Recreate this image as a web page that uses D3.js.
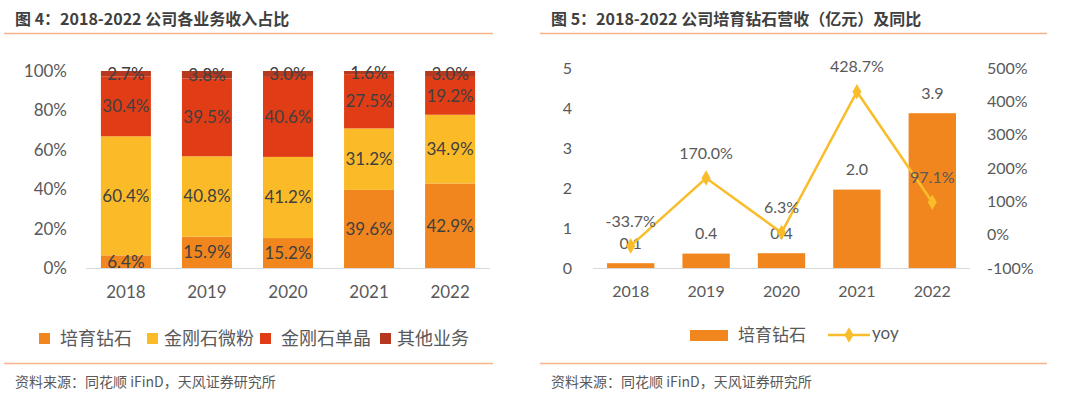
<!DOCTYPE html>
<html>
<head>
<meta charset="utf-8">
<script src="https://cdn.jsdelivr.net/npm/d3@7"></script>
<style>
  body { margin: 0; background: #fff; }
  svg { display: block; }
  text { font-family: Lato, "Noto Sans CJK SC", sans-serif; }
  .cjk { font-family: "Noto Sans CJK SC", sans-serif; }
</style>
</head>
<body>
<script>
// ----- DATA -----
const years = ["2018", "2019", "2020", "2021", "2022"];
const segNames = ["培育钻石", "金刚石微粉", "金刚石单晶", "其他业务"];
const cultivated = [6.4, 15.9, 15.2, 39.6, 42.9];
const micropowder = [60.4, 40.8, 41.2, 31.2, 34.9];
const singleCrystal = [30.4, 39.5, 40.6, 27.5, 19.2];
const others = [2.7, 3.8, 3.0, 1.6, 3.0];
const pctTicks = [0, 0.2, 0.4, 0.6, 0.8, 1];

const revenue = [0.12, 0.36, 0.37, 1.96, 3.87]; // 亿元
const yoy = [-33.7, 170.0, 6.3, 428.7, 97.1];
const revTicks = [0, 1, 2, 3, 4, 5];
const yoyTicks = [-100, 0, 100, 200, 300, 400, 500];

const segColors = ["#F0861D", "#FBBB28", "#E03C15", "#B5381F"];
const barColor = "#F0861D";
const lineColor = "#F9BD2B";
const rule = "#F5B48C";
const tickGray = "#595959";
const labelGray = "#404040";

const svg = d3.select("body").append("svg")
  .attr("width", 1080)
  .attr("height", 398);

// ----- HEADERS / FOOTERS -----
function frame(x0, x1, title) {
  svg.append("text").attr("class", "cjk")
    .attr("x", x0 + 11).attr("y", 25)
    .attr("font-size", 16).attr("font-weight", "bold")
    .attr("fill", labelGray).text(title);
  svg.append("line").attr("x1", x0).attr("x2", x1)
    .attr("y1", 33.5).attr("y2", 33.5)
    .attr("stroke", rule).attr("stroke-width", 1.5);
  svg.append("line").attr("x1", x0).attr("x2", x1)
    .attr("y1", 363.5).attr("y2", 363.5)
    .attr("stroke", rule).attr("stroke-width", 1.5);
  svg.append("text").attr("class", "cjk")
    .attr("x", x0 + 11).attr("y", 387)
    .attr("font-size", 14).attr("fill", tickGray)
    .text("资料来源：同花顺 iFinD，天风证券研究所");
}
frame(4, 493, "图 4：2018-2022 公司各业务收入占比");
frame(540, 1047, "图 5：2018-2022 公司培育钻石营收（亿元）及同比");

// ----- LEFT: 100% STACKED -----
const rows = years.map((y, i) => ({
  year: y, a: cultivated[i], b: micropowder[i], c: singleCrystal[i], d: others[i]
}));
const keys = ["a", "b", "c", "d"];
const stacked = d3.stack().keys(keys).offset(d3.stackOffsetExpand)(rows);

const xL = d3.scaleBand().domain(years).range([85.5, 490.5])
  .paddingInner(0.383).paddingOuter(0.19);
const yL = d3.scaleLinear().domain([0, 1]).range([268, 71]);

const gL = svg.append("g");
gL.selectAll("g.series").data(stacked).enter().append("g")
  .attr("fill", (d, i) => segColors[i])
  .selectAll("rect").data(d => d).enter().append("rect")
  .attr("x", d => xL(d.data.year))
  .attr("width", xL.bandwidth())
  .attr("y", d => yL(d[1]))
  .attr("height", d => yL(d[0]) - yL(d[1]));

gL.append("line").attr("x1", 86).attr("x2", 490)
  .attr("y1", 268.5).attr("y2", 268.5)
  .attr("stroke", "#D9D9D9").attr("stroke-width", 1.2);

stacked.forEach(s => {
  gL.selectAll(null).data(s).enter().append("text")
    .attr("x", d => xL(d.data.year) + xL.bandwidth() / 2)
    .attr("y", d => yL((d[0] + d[1]) / 2))
    .attr("dy", "0.35em")
    .attr("text-anchor", "middle")
    .attr("font-size", 17).attr("fill", labelGray)
    .text(d => d.data[s.key].toFixed(1) + "%");
});

const axL = d3.axisLeft(yL).tickValues(pctTicks)
  .tickFormat(d => Math.round(d * 100) + "%").tickSize(0).tickPadding(0);
gL.append("g").attr("transform", "translate(67,0)").call(axL)
  .call(g => g.select(".domain").remove())
  .selectAll("text").attr("font-size", 17).attr("fill", tickGray)
  .attr("font-family", "Lato");

const axLx = d3.axisBottom(xL).tickSize(0).tickPadding(0);
gL.append("g").attr("transform", "translate(0,286)").call(axLx)
  .call(g => g.select(".domain").remove())
  .selectAll("text").attr("font-size", 17).attr("fill", tickGray)
  .attr("font-family", "Lato");

// legend left
const legL = svg.append("g");
const legX = [39, 147, 260, 380];
segNames.forEach((n, i) => {
  legL.append("rect").attr("x", legX[i]).attr("y", 333)
    .attr("width", 11).attr("height", 11).attr("fill", segColors[i]);
  legL.append("text").attr("class", "cjk")
    .attr("x", legX[i] + (i === 0 || i === 2 ? 21 : 17)).attr("y", 339)
    .attr("dy", "0.35em").attr("font-size", 18).attr("fill", tickGray)
    .text(n);
});

// ----- RIGHT: BAR + LINE -----
const xR = d3.scaleBand().domain(years).range([593, 970])
  .paddingInner(0.372).paddingOuter(0.186);
const yR = d3.scaleLinear().domain([0, 5]).range([268, 68]);
const yR2 = d3.scaleLinear().domain([-100, 500]).range([268, 68]);

const gR = svg.append("g");
gR.selectAll("rect").data(revenue).enter().append("rect")
  .attr("x", (d, i) => xR(years[i]))
  .attr("width", xR.bandwidth())
  .attr("y", d => yR(d))
  .attr("height", d => yR(0) - yR(d))
  .attr("fill", barColor);

gR.append("line").attr("x1", 593).attr("x2", 970)
  .attr("y1", 268.5).attr("y2", 268.5)
  .attr("stroke", "#D9D9D9").attr("stroke-width", 1.2);

const cx = i => xR(years[i]) + xR.bandwidth() / 2;

gR.selectAll("text.rev").data(revenue).enter().append("text")
  .attr("x", (d, i) => cx(i))
  .attr("y", d => yR(d) - 20)
  .attr("dy", "0.35em").attr("text-anchor", "middle")
  .attr("font-size", 16).attr("fill", tickGray)
  .text(d => d.toFixed(1));

const line = d3.line().x((d, i) => cx(i)).y(d => yR2(d));
gR.append("path").datum(yoy).attr("d", line)
  .attr("fill", "none").attr("stroke", lineColor).attr("stroke-width", 2.5);

gR.selectAll("path.pt").data(yoy).enter().append("path")
  .attr("transform", (d, i) => `translate(${cx(i)},${yR2(d)})`)
  .attr("d", d3.symbol().type(d3.symbolDiamond).size(70))
  .attr("fill", lineColor);

gR.selectAll("text.yoy").data(yoy).enter().append("text")
  .attr("x", (d, i) => cx(i))
  .attr("y", d => yR2(d) - 25)
  .attr("dy", "0.35em").attr("text-anchor", "middle")
  .attr("font-size", 16).attr("fill", tickGray)
  .text(d => d.toFixed(1) + "%");

const axR = d3.axisLeft(yR).tickValues(revTicks).tickFormat(d3.format("d"))
  .tickSize(0).tickPadding(0);
gR.append("g").attr("transform", "translate(572,0)").call(axR)
  .call(g => g.select(".domain").remove())
  .selectAll("text").attr("font-size", 16).attr("fill", tickGray)
  .attr("font-family", "Lato");

const axR2 = d3.axisRight(yR2).tickValues(yoyTicks)
  .tickFormat(d => d + "%").tickSize(0).tickPadding(0);
gR.append("g").attr("transform", "translate(987,0)").call(axR2)
  .call(g => g.select(".domain").remove())
  .selectAll("text").attr("font-size", 16).attr("fill", tickGray)
  .attr("font-family", "Lato");

const axRx = d3.axisBottom(xR).tickSize(0).tickPadding(0);
gR.append("g").attr("transform", "translate(0,286)").call(axRx)
  .call(g => g.select(".domain").remove())
  .selectAll("text").attr("font-size", 16).attr("fill", tickGray)
  .attr("font-family", "Lato");

// legend right
const legR = svg.append("g");
legR.append("rect").attr("x", 690).attr("y", 330)
  .attr("width", 38).attr("height", 11).attr("fill", barColor);
legR.append("text").attr("class", "cjk")
  .attr("x", 738).attr("y", 335).attr("dy", "0.35em")
  .attr("font-size", 17).attr("fill", tickGray).text("培育钻石");
legR.append("line").attr("x1", 828).attr("x2", 870)
  .attr("y1", 335).attr("y2", 335)
  .attr("stroke", lineColor).attr("stroke-width", 2.5);
legR.append("path").attr("transform", "translate(849,335)")
  .attr("d", d3.symbol().type(d3.symbolDiamond).size(70))
  .attr("fill", lineColor);
legR.append("text")
  .attr("x", 872).attr("y", 333).attr("dy", "0.35em")
  .attr("font-size", 17).attr("fill", tickGray).text("yoy");
</script>
</body>
</html>
